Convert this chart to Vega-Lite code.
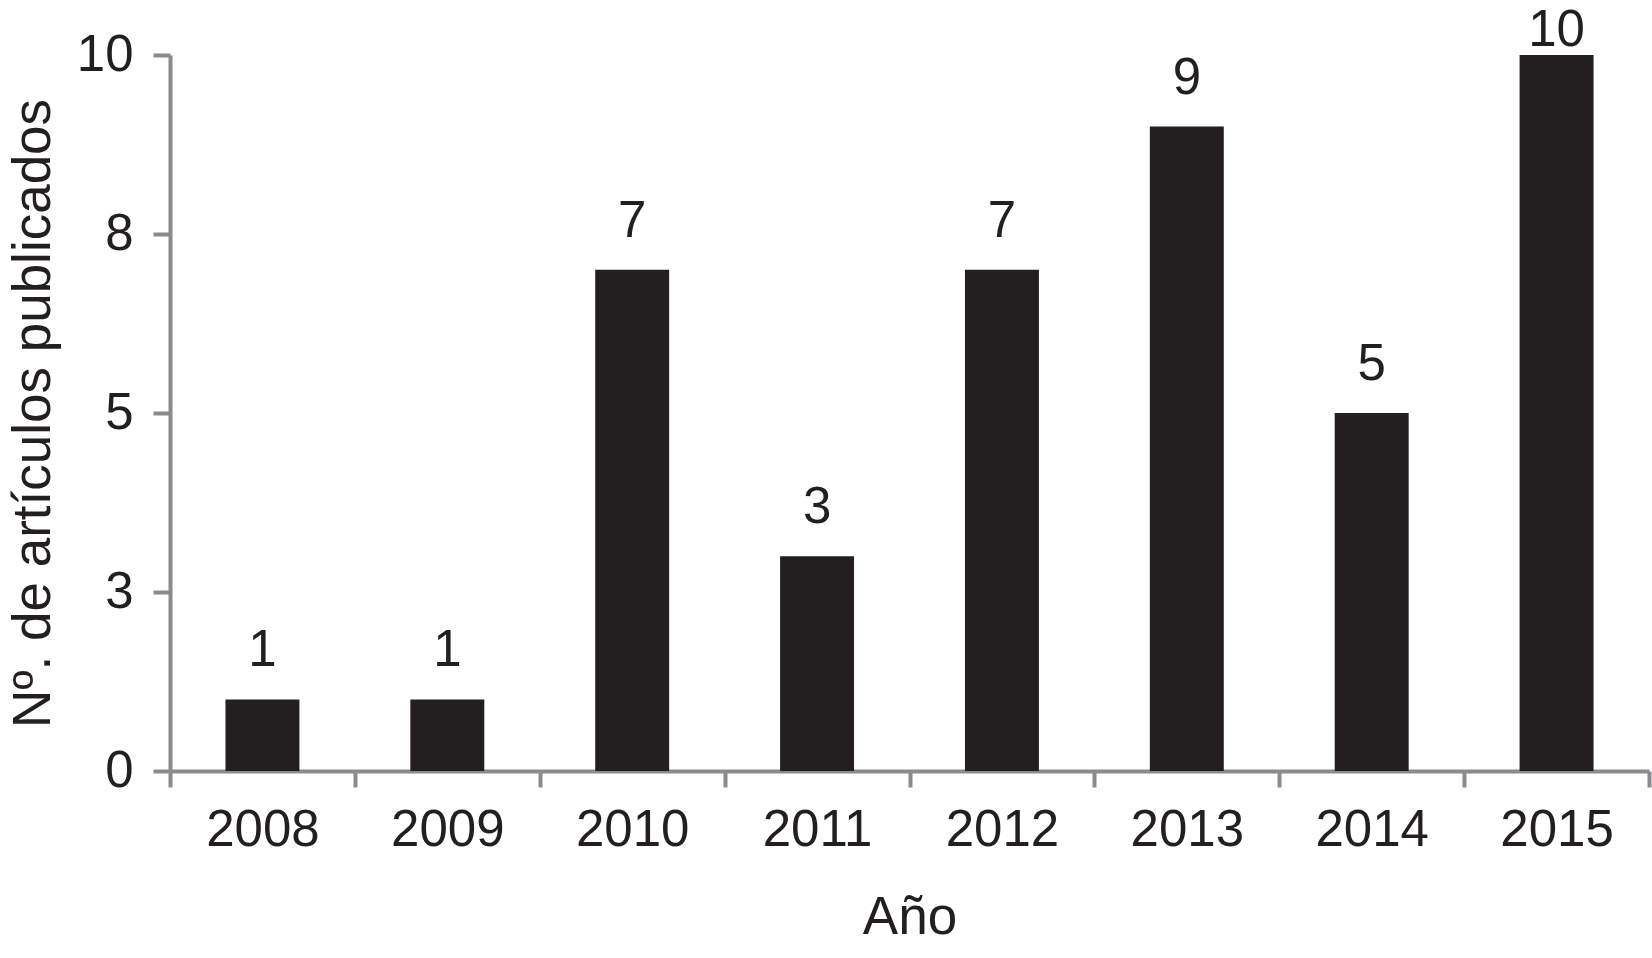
{
  "$schema": "https://vega.github.io/schema/vega-lite/v6.json",
  "width": 1479,
  "height": 716,
  "autosize": "none",
  "padding": {"left": 170, "top": 55, "right": 3, "bottom": 187},
  "background": "white",
  "config": {
    "view": {"stroke": null},
    "font": "Liberation Sans",
    "axis": {
      "grid": false,
      "domainColor": "#8a8b8d",
      "domainWidth": 4,
      "tickColor": "#8a8b8d",
      "tickWidth": 4,
      "labelColor": "#231f20",
      "labelFontSize": 51,
      "titleColor": "#231f20",
      "titleFontSize": 53,
      "titleFontWeight": "normal"
    }
  },
  "data": {
    "values": [
      {"year": "2008", "n": 1},
      {"year": "2009", "n": 1},
      {"year": "2010", "n": 7},
      {"year": "2011", "n": 3},
      {"year": "2012", "n": 7},
      {"year": "2013", "n": 9},
      {"year": "2014", "n": 5},
      {"year": "2015", "n": 10}
    ]
  },
  "layer": [
    {
      "mark": {"type": "bar", "color": "#231f20", "width": {"band": 0.4}},
      "encoding": {
        "x": {
          "field": "year",
          "type": "ordinal",
          "scale": {"paddingInner": 0, "paddingOuter": 0},
          "axis": {
            "title": "Año",
            "labelAngle": 0,
            "tickBand": "extent",
            "tickSize": 16,
            "labelPadding": 18,
            "titlePadding": 36
          }
        },
        "y": {
          "field": "n",
          "type": "quantitative",
          "scale": {"domain": [0, 10], "nice": false},
          "axis": {
            "title": "Nº. de artículos publicados",
            "values": [0, 2.5, 5, 7.5, 10],
            "format": ".0f",
            "tickSize": 17,
            "labelPadding": 20,
            "titlePadding": 16
          }
        }
      }
    },
    {
      "transform": [{"filter": "datum.n < 10"}],
      "mark": {"type": "text", "baseline": "alphabetic", "dy": -33, "fontSize": 51, "color": "#231f20"},
      "encoding": {
        "x": {"field": "year", "type": "ordinal"},
        "y": {"field": "n", "type": "quantitative"},
        "text": {"field": "n", "type": "quantitative"}
      }
    },
    {
      "transform": [{"filter": "datum.n >= 10"}],
      "mark": {"type": "text", "baseline": "alphabetic", "dy": -9, "fontSize": 51, "color": "#231f20"},
      "encoding": {
        "x": {"field": "year", "type": "ordinal"},
        "y": {"field": "n", "type": "quantitative"},
        "text": {"field": "n", "type": "quantitative"}
      }
    }
  ]
}
